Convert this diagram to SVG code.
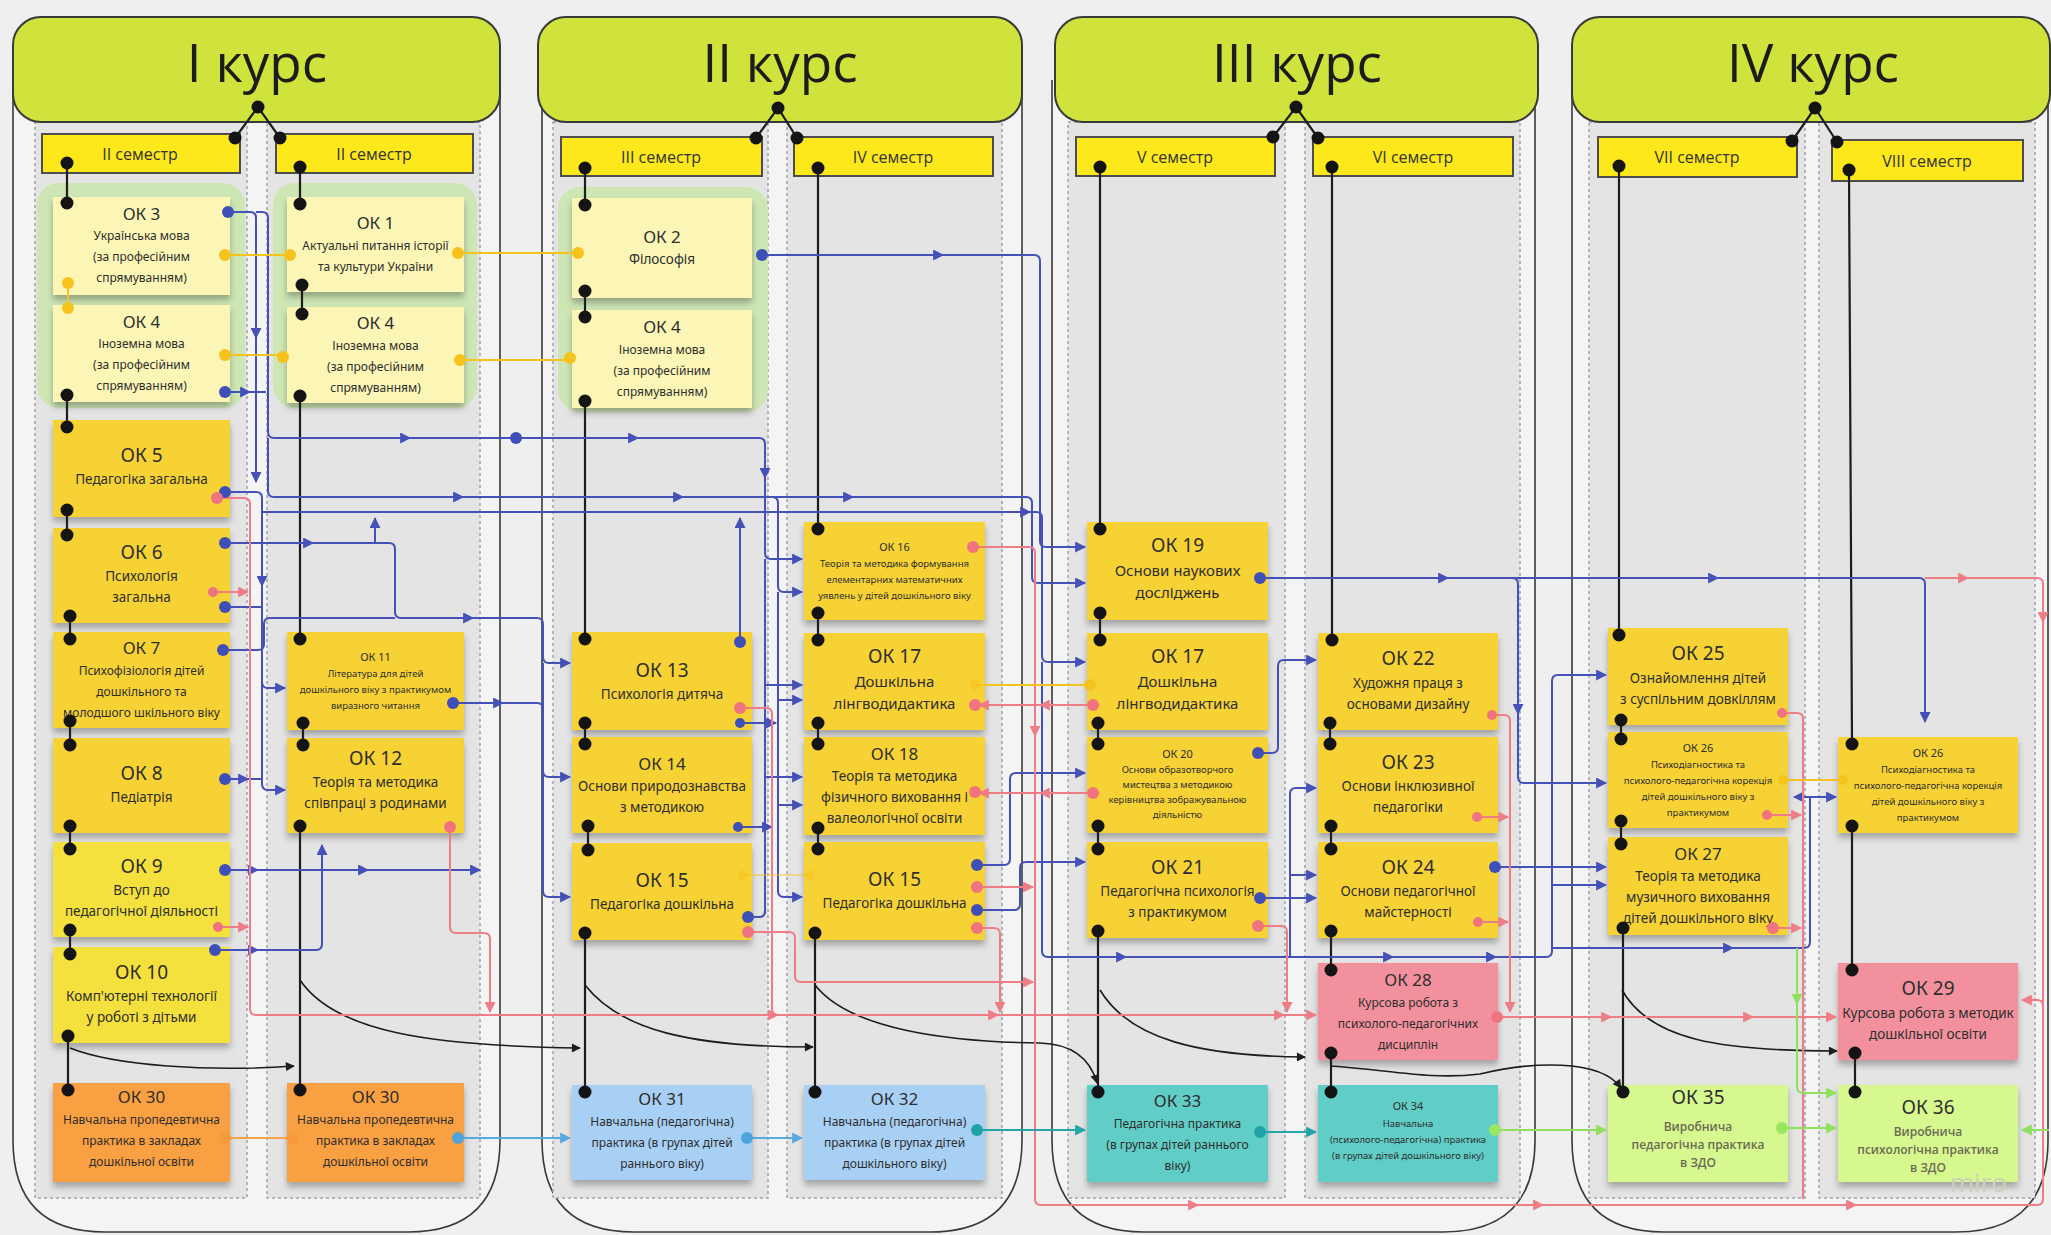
<svg xmlns="http://www.w3.org/2000/svg" width="2051" height="1235" viewBox="0 0 2051 1235">
<defs>
<style>
.bg{fill:#efefef}
.crs{fill:#f4f4f4;stroke:#3a3a3a;stroke-width:1.6}
.col{fill:#e4e4e4;stroke:#a0a0b0;stroke-width:1.5;stroke-dasharray:3 3}
.hdr{fill:#cfe33c;stroke:#3a3a3a;stroke-width:2}
.ttl{font-family:"Open Sans","Liberation Sans",sans-serif;font-size:53px;fill:#1c1c1c;text-anchor:middle}
.sem{fill:#fde81c;stroke:#4d4d4d;stroke-width:2}
.st{font-family:"Open Sans","Liberation Sans",sans-serif;font-size:16px;fill:#333;text-anchor:middle}
.grp{fill:#cde6b4}
.nd{filter:url(#sh)}
.ly{fill:#fbf6b6}.y{fill:#f7d235}.y2{fill:#f4e13c}.or{fill:#f9a043}.bl{fill:#a8d0f5}.tl{fill:#60cdc6}.pk{fill:#f2919d}.lg{fill:#d6f88f}
.t{font-family:"Noto Sans","Liberation Sans",sans-serif;fill:#2e2e2e;text-anchor:middle}
.h{font-size:17px}.hb{font-size:19px}.b{font-size:13.5px}.bb{font-size:15px}.b12{font-size:12px}.sm{font-size:9.5px}.hs{font-size:11px}
.gw{font-family:"Open Sans","Liberation Sans",sans-serif;font-size:12px;font-weight:600;fill:#6b6b55}
.k{stroke:#1d1d1d;stroke-width:2.2;fill:none}
.u{stroke:#4551b6;stroke-width:2;fill:none}
.r{stroke:#ee7d86;stroke-width:2;fill:none}
.yl{stroke:#f5c320;stroke-width:2;fill:none}
.o{stroke:#f6a246;stroke-width:2;fill:none}
.lb{stroke:#58a9de;stroke-width:2;fill:none}
.tq{stroke:#24a6a8;stroke-width:2;fill:none}
.gr{stroke:#8fe05c;stroke-width:2;fill:none}
.dk{fill:#141414}
.du{fill:#3f4fb8}.dr{fill:#ef7480}.dy{fill:#f6c21c}.do{fill:#f89a3c}.dl{fill:#4fa3db}.dt{fill:#1fa3a6}.dg{fill:#97e763}
.wm{font-family:"Open Sans","Liberation Sans",sans-serif;font-size:26px;fill:#c9d3bc}
</style>
<filter id="sh" x="-5%" y="-5%" width="110%" height="125%"><feDropShadow dx="0" dy="5" stdDeviation="3" flood-color="#000" flood-opacity="0.28"/></filter>
<marker id="au" viewBox="0 0 10 10" refX="9" refY="5" markerWidth="13" markerHeight="11" markerUnits="userSpaceOnUse" orient="auto"><path d="M0,0L10,5L0,10z" fill="#4551b6"/></marker>
<marker id="ar" viewBox="0 0 10 10" refX="9" refY="5" markerWidth="13" markerHeight="11" markerUnits="userSpaceOnUse" orient="auto"><path d="M0,0L10,5L0,10z" fill="#ee7d86"/></marker>
<marker id="ak" viewBox="0 0 10 10" refX="9" refY="5" markerWidth="13" markerHeight="9" markerUnits="userSpaceOnUse" orient="auto"><path d="M0,0L10,5L0,10z" fill="#1d1d1d"/></marker>
<marker id="al" viewBox="0 0 10 10" refX="9" refY="5" markerWidth="13" markerHeight="11" markerUnits="userSpaceOnUse" orient="auto"><path d="M0,0L10,5L0,10z" fill="#58a9de"/></marker>
<marker id="at" viewBox="0 0 10 10" refX="9" refY="5" markerWidth="13" markerHeight="11" markerUnits="userSpaceOnUse" orient="auto"><path d="M0,0L10,5L0,10z" fill="#24a6a8"/></marker>
<marker id="ag" viewBox="0 0 10 10" refX="9" refY="5" markerWidth="13" markerHeight="11" markerUnits="userSpaceOnUse" orient="auto"><path d="M0,0L10,5L0,10z" fill="#8fe05c"/></marker>
</defs>

<rect class="bg" x="0" y="0" width="2051" height="1235"/>

<g id="courses">
<path class="crs" d="M13,80 V1140 Q13,1232 105,1232 H408 Q500,1232 500,1140 V80"/>
<path class="crs" d="M542,80 V1140 Q542,1232 634,1232 H930 Q1022,1232 1022,1140 V80"/>
<path class="crs" d="M1052,80 V1140 Q1052,1232 1144,1232 H1443 Q1535,1232 1535,1140 V80"/>
<path class="crs" d="M1572,80 V1140 Q1572,1232 1664,1232 H1956 Q2048,1232 2048,1140 V80"/>
<rect class="col" x="35" y="122" width="212" height="1076"/>
<rect class="col" x="267" y="122" width="213" height="1076"/>
<rect class="col" x="553" y="122" width="215" height="1076"/>
<rect class="col" x="787" y="122" width="215" height="1076"/>
<rect class="col" x="1068" y="122" width="217" height="1076"/>
<rect class="col" x="1305" y="122" width="215" height="1076"/>
<rect class="col" x="1589" y="122" width="216" height="1076"/>
<rect class="col" x="1819" y="122" width="216" height="1076"/>
</g>

<g id="hdr1"><rect class="hdr" x="13" y="17" width="487" height="105" rx="28"/><text class="ttl" x="257" y="82">I курс</text></g>
<g id="hdr2"><rect class="hdr" x="538" y="17" width="484" height="105" rx="28"/><text class="ttl" x="780" y="82">II курс</text></g>
<g id="hdr3"><rect class="hdr" x="1055" y="17" width="483" height="105" rx="28"/><text class="ttl" x="1297" y="82">III курс</text></g>
<g id="hdr4"><rect class="hdr" x="1572" y="17" width="478" height="105" rx="28"/><text class="ttl" x="1813" y="82">IV курс</text></g>

<g id="sem1"><rect class="sem" x="42" y="134" width="198" height="39"/><text class="st" x="140" y="160">II семестр</text></g>
<g id="sem2"><rect class="sem" x="276" y="134" width="197" height="39"/><text class="st" x="374" y="160">II семестр</text></g>
<g id="sem3"><rect class="sem" x="561" y="137" width="201" height="39"/><text class="st" x="661" y="163">III семестр</text></g>
<g id="sem4"><rect class="sem" x="794" y="137" width="199" height="39"/><text class="st" x="893" y="163">IV семестр</text></g>
<g id="sem5"><rect class="sem" x="1076" y="137" width="199" height="39"/><text class="st" x="1175" y="163">V семестр</text></g>
<g id="sem6"><rect class="sem" x="1313" y="137" width="200" height="39"/><text class="st" x="1413" y="163">VI семестр</text></g>
<g id="sem7"><rect class="sem" x="1598" y="137" width="199" height="40"/><text class="st" x="1697" y="163">VII семестр</text></g>
<g id="sem8"><rect class="sem" x="1832" y="140" width="191" height="41"/><text class="st" x="1927" y="167">VIII семестр</text></g>

<g id="groups">
<rect class="grp" x="37" y="183" width="208" height="225" rx="22"/>
<rect class="grp" x="273" y="183" width="204" height="225" rx="22"/>
<rect class="grp" x="558" y="187" width="210" height="225" rx="22"/>
</g>

<g id="ok3"><rect class="nd ly" x="53" y="197" width="177" height="98"/><text class="t"><tspan class="h" x="141.5" y="220">ОК 3</tspan><tspan class="b12" x="141.5" y="240">Українська мова</tspan><tspan class="b12" x="141.5" y="261">(за професійним</tspan><tspan class="b12" x="141.5" y="282">спрямуванням)</tspan></text></g>
<g id="ok4a"><rect class="nd ly" x="53" y="305" width="177" height="97"/><text class="t"><tspan class="h" x="141.5" y="328">ОК 4</tspan><tspan class="b12" x="141.5" y="348">Іноземна мова</tspan><tspan class="b12" x="141.5" y="369">(за професійним</tspan><tspan class="b12" x="141.5" y="390">спрямуванням)</tspan></text></g>
<g id="ok5"><rect class="nd y" x="53" y="420" width="177" height="97"/><text class="t"><tspan class="hb" x="141.5" y="462">ОК 5</tspan><tspan class="b" x="141.5" y="484">Педагогіка загальна</tspan></text></g>
<g id="ok6"><rect class="nd y" x="53" y="528" width="177" height="95"/><text class="t"><tspan class="hb" x="141.5" y="559">ОК 6</tspan><tspan class="b" x="141.5" y="581">Психологія</tspan><tspan class="b" x="141.5" y="602">загальна</tspan></text></g>
<g id="ok7"><rect class="nd y" x="53" y="632" width="177" height="96"/><text class="t"><tspan class="h" x="141.5" y="654">ОК 7</tspan><tspan class="b12" x="141.5" y="675">Психофізіологія дітей</tspan><tspan class="b12" x="141.5" y="696">дошкільного та</tspan><tspan class="b12" x="141.5" y="717">молодшого шкільного віку</tspan></text></g>
<g id="ok8"><rect class="nd y" x="53" y="738" width="177" height="95"/><text class="t"><tspan class="hb" x="141.5" y="780">ОК 8</tspan><tspan class="b" x="141.5" y="802">Педіатрія</tspan></text></g>
<g id="ok9"><rect class="nd y2" x="53" y="842" width="177" height="95"/><text class="t"><tspan class="hb" x="141.5" y="873">ОК 9</tspan><tspan class="b" x="141.5" y="895">Вступ до</tspan><tspan class="b" x="141.5" y="916">педагогічної діяльності</tspan></text></g>
<g id="ok10"><rect class="nd y2" x="53" y="947" width="177" height="96"/><text class="t"><tspan class="hb" x="141.5" y="979">ОК 10</tspan><tspan class="b" x="141.5" y="1001">Комп'ютерні технології</tspan><tspan class="b" x="141.5" y="1022">у роботі з дітьми</tspan></text></g>
<g id="ok30a"><rect class="nd or" x="53" y="1083" width="177" height="99"/><text class="t"><tspan class="h" x="141.5" y="1103">ОК 30</tspan><tspan class="b12" x="141.5" y="1124">Навчальна пропедевтична</tspan><tspan class="b12" x="141.5" y="1145">практика в закладах</tspan><tspan class="b12" x="141.5" y="1166">дошкільної освіти</tspan></text></g>

<g id="ok1"><rect class="nd ly" x="287" y="197" width="177" height="95"/><text class="t"><tspan class="h" x="375.5" y="229">ОК 1</tspan><tspan class="b12" x="375.5" y="250">Актуальні питання історії</tspan><tspan class="b12" x="375.5" y="271">та культури України</tspan></text></g>
<g id="ok4b"><rect class="nd ly" x="287" y="307" width="177" height="96"/><text class="t"><tspan class="h" x="375.5" y="329">ОК 4</tspan><tspan class="b12" x="375.5" y="350">Іноземна мова</tspan><tspan class="b12" x="375.5" y="371">(за професійним</tspan><tspan class="b12" x="375.5" y="392">спрямуванням)</tspan></text></g>
<g id="ok11"><rect class="nd y" x="287" y="632" width="177" height="98"/><text class="t"><tspan class="hs" x="375.5" y="661">ОК 11</tspan><tspan class="sm" x="375.5" y="677">Література для дітей</tspan><tspan class="sm" x="375.5" y="693">дошкільного віку з практикумом</tspan><tspan class="sm" x="375.5" y="709">виразного читання</tspan></text></g>
<g id="ok12"><rect class="nd y" x="287" y="738" width="177" height="95"/><text class="t"><tspan class="hb" x="375.5" y="765">ОК 12</tspan><tspan class="b" x="375.5" y="787">Теорія та методика</tspan><tspan class="b" x="375.5" y="808">співпраці з родинами</tspan></text></g>
<g id="ok30b"><rect class="nd or" x="287" y="1083" width="177" height="99"/><text class="t"><tspan class="h" x="375.5" y="1103">ОК 30</tspan><tspan class="b12" x="375.5" y="1124">Навчальна пропедевтична</tspan><tspan class="b12" x="375.5" y="1145">практика в закладах</tspan><tspan class="b12" x="375.5" y="1166">дошкільної освіти</tspan></text></g>

<g id="ok2"><rect class="nd ly" x="572" y="198" width="180" height="100"/><text class="t"><tspan class="h" x="662" y="243">ОК 2</tspan><tspan class="b" x="662" y="264">Філософія</tspan></text></g>
<g id="ok4c"><rect class="nd ly" x="572" y="310" width="180" height="98"/><text class="t"><tspan class="h" x="662" y="333">ОК 4</tspan><tspan class="b12" x="662" y="354">Іноземна мова</tspan><tspan class="b12" x="662" y="375">(за професійним</tspan><tspan class="b12" x="662" y="396">спрямуванням)</tspan></text></g>
<g id="ok13"><rect class="nd y" x="572" y="632" width="180" height="98"/><text class="t"><tspan class="hb" x="662" y="677">ОК 13</tspan><tspan class="b" x="662" y="699">Психологія дитяча</tspan></text></g>
<g id="ok14"><rect class="nd y" x="572" y="737" width="180" height="96"/><text class="t"><tspan class="h" x="662" y="770">ОК 14</tspan><tspan class="b" x="662" y="791">Основи природознавства</tspan><tspan class="b" x="662" y="812">з методикою</tspan></text></g>
<g id="ok15a"><rect class="nd y" x="572" y="843" width="180" height="97"/><text class="t"><tspan class="hb" x="662" y="887">ОК 15</tspan><tspan class="b" x="662" y="909">Педагогіка дошкільна</tspan></text></g>
<g id="ok31"><rect class="nd bl" x="572" y="1085" width="180" height="95"/><text class="t"><tspan class="h" x="662" y="1105">ОК 31</tspan><tspan class="b12" x="662" y="1126">Навчальна (педагогічна)</tspan><tspan class="b12" x="662" y="1147">практика (в групах дітей</tspan><tspan class="b12" x="662" y="1168">раннього віку)</tspan></text></g>

<g id="ok16"><rect class="nd y" x="804" y="522" width="181" height="98"/><text class="t"><tspan class="hs" x="894.5" y="551">ОК 16</tspan><tspan class="sm" x="894.5" y="567">Теорія та методика формування</tspan><tspan class="sm" x="894.5" y="583">елементарних математичних</tspan><tspan class="sm" x="894.5" y="599">уявлень у дітей дошкільного віку</tspan></text></g>
<g id="ok17a"><rect class="nd y" x="804" y="633" width="181" height="97"/><text class="t"><tspan class="hb" x="894.5" y="663">ОК 17</tspan><tspan class="bb" x="894.5" y="687">Дошкільна</tspan><tspan class="bb" x="894.5" y="709">лінгводидактика</tspan></text></g>
<g id="ok18"><rect class="nd y" x="804" y="737" width="181" height="98"/><text class="t"><tspan class="h" x="894.5" y="760">ОК 18</tspan><tspan class="b" x="894.5" y="781">Теорія та методика</tspan><tspan class="b" x="894.5" y="802">фізичного виховання і</tspan><tspan class="b" x="894.5" y="823">валеологічної освіти</tspan></text></g>
<g id="ok15b"><rect class="nd y" x="804" y="842" width="181" height="98"/><text class="t"><tspan class="hb" x="894.5" y="886">ОК 15</tspan><tspan class="b" x="894.5" y="908">Педагогіка дошкільна</tspan></text></g>
<g id="ok32"><rect class="nd bl" x="804" y="1085" width="181" height="95"/><text class="t"><tspan class="h" x="894.5" y="1105">ОК 32</tspan><tspan class="b12" x="894.5" y="1126">Навчальна (педагогічна)</tspan><tspan class="b12" x="894.5" y="1147">практика (в групах дітей</tspan><tspan class="b12" x="894.5" y="1168">дошкільного віку)</tspan></text></g>

<g id="ok19"><rect class="nd y" x="1087" y="522" width="181" height="98"/><text class="t"><tspan class="hb" x="1177.5" y="552">ОК 19</tspan><tspan class="bb" x="1177.5" y="576">Основи наукових</tspan><tspan class="bb" x="1177.5" y="598">досліджень</tspan></text></g>
<g id="ok17b"><rect class="nd y" x="1087" y="633" width="181" height="97"/><text class="t"><tspan class="hb" x="1177.5" y="663">ОК 17</tspan><tspan class="bb" x="1177.5" y="687">Дошкільна</tspan><tspan class="bb" x="1177.5" y="709">лінгводидактика</tspan></text></g>
<g id="ok20"><rect class="nd y" x="1087" y="737" width="181" height="96"/><text class="t"><tspan class="hs" x="1177.5" y="758">ОК 20</tspan><tspan class="sm" x="1177.5" y="773">Основи образотворчого</tspan><tspan class="sm" x="1177.5" y="788">мистецтва з методикою</tspan><tspan class="sm" x="1177.5" y="803">керівництва зображувальною</tspan><tspan class="sm" x="1177.5" y="818">діяльністю</tspan></text></g>
<g id="ok21"><rect class="nd y" x="1087" y="842" width="181" height="96"/><text class="t"><tspan class="hb" x="1177.5" y="874">ОК 21</tspan><tspan class="b" x="1177.5" y="896">Педагогічна психологія</tspan><tspan class="b" x="1177.5" y="917">з практикумом</tspan></text></g>
<g id="ok33"><rect class="nd tl" x="1087" y="1085" width="181" height="97"/><text class="t"><tspan class="h" x="1177.5" y="1107">ОК 33</tspan><tspan class="b12" x="1177.5" y="1128">Педагогічна практика</tspan><tspan class="b12" x="1177.5" y="1149">(в групах дітей раннього</tspan><tspan class="b12" x="1177.5" y="1170">віку)</tspan></text></g>

<g id="ok22"><rect class="nd y" x="1318" y="633" width="180" height="97"/><text class="t"><tspan class="hb" x="1408" y="665">ОК 22</tspan><tspan class="b" x="1408" y="688">Художня праця з</tspan><tspan class="b" x="1408" y="709">основами дизайну</tspan></text></g>
<g id="ok23"><rect class="nd y" x="1318" y="737" width="180" height="96"/><text class="t"><tspan class="hb" x="1408" y="769">ОК 23</tspan><tspan class="b" x="1408" y="791">Основи інклюзивної</tspan><tspan class="b" x="1408" y="812">педагогіки</tspan></text></g>
<g id="ok24"><rect class="nd y" x="1318" y="842" width="180" height="96"/><text class="t"><tspan class="hb" x="1408" y="874">ОК 24</tspan><tspan class="b" x="1408" y="896">Основи педагогічної</tspan><tspan class="b" x="1408" y="917">майстерності</tspan></text></g>
<g id="ok28"><rect class="nd pk" x="1318" y="963" width="180" height="97"/><text class="t"><tspan class="h" x="1408" y="986">ОК 28</tspan><tspan class="b12" x="1408" y="1007">Курсова робота з</tspan><tspan class="b12" x="1408" y="1028">психолого-педагогічних</tspan><tspan class="b12" x="1408" y="1049">дисциплін</tspan></text></g>
<g id="ok34"><rect class="nd tl" x="1318" y="1085" width="180" height="97"/><text class="t"><tspan class="hs" x="1408" y="1110">ОК 34</tspan><tspan class="sm" x="1408" y="1127">Навчальна</tspan><tspan class="sm" x="1408" y="1143">(психолого-педагогічна) практика</tspan><tspan class="sm" x="1408" y="1159">(в групах дітей дошкільного віку)</tspan></text></g>

<g id="ok25"><rect class="nd y" x="1608" y="628" width="180" height="97"/><text class="t"><tspan class="hb" x="1698" y="660">ОК 25</tspan><tspan class="b" x="1698" y="683">Ознайомлення дітей</tspan><tspan class="b" x="1698" y="704">з суспільним довкіллям</tspan></text></g>
<g id="ok26a"><rect class="nd y" x="1608" y="732" width="180" height="96"/><text class="t"><tspan class="hs" x="1698" y="752">ОК 26</tspan><tspan class="sm" x="1698" y="768">Психодіагностика та</tspan><tspan class="sm" x="1698" y="784">психолого-педагогічна корекція</tspan><tspan class="sm" x="1698" y="800">дітей дошкільного віку з</tspan><tspan class="sm" x="1698" y="816">практикумом</tspan></text></g>
<g id="ok27"><rect class="nd y" x="1608" y="837" width="180" height="98"/><text class="t"><tspan class="h" x="1698" y="860">ОК 27</tspan><tspan class="b" x="1698" y="881">Теорія та методика</tspan><tspan class="b" x="1698" y="902">музичного виховання</tspan><tspan class="b" x="1698" y="923">дітей дошкільного віку</tspan></text></g>
<g id="ok35"><rect class="nd lg" x="1608" y="1085" width="180" height="97"/><text class="t"><tspan class="hb" x="1698" y="1104">ОК 35</tspan></text><text class="gw" text-anchor="middle"><tspan x="1698" y="1131">Виробнича</tspan><tspan x="1698" y="1149">педагогічна практика</tspan><tspan x="1698" y="1167">в ЗДО</tspan></text></g>

<g id="ok26b"><rect class="nd y" x="1838" y="737" width="180" height="96"/><text class="t"><tspan class="hs" x="1928" y="757">ОК 26</tspan><tspan class="sm" x="1928" y="773">Психодіагностика та</tspan><tspan class="sm" x="1928" y="789">психолого-педагогічна корекція</tspan><tspan class="sm" x="1928" y="805">дітей дошкільного віку з</tspan><tspan class="sm" x="1928" y="821">практикумом</tspan></text></g>
<g id="ok29"><rect class="nd pk" x="1838" y="963" width="180" height="97"/><text class="t"><tspan class="hb" x="1928" y="995">ОК 29</tspan><tspan class="b" x="1928" y="1018">Курсова робота з методик</tspan><tspan class="b" x="1928" y="1039">дошкільної освіти</tspan></text></g>
<g id="ok36"><rect class="nd lg" x="1838" y="1085" width="180" height="97"/><text class="t"><tspan class="hb" x="1928" y="1114">ОК 36</tspan></text><text class="gw" text-anchor="middle"><tspan x="1928" y="1136">Виробнича</tspan><tspan x="1928" y="1154">психологічна практика</tspan><tspan x="1928" y="1172">в ЗДО</tspan></text></g>

<text class="wm" x="1950" y="1192">miro</text>

<g id="connectors">
<path class="k" d="M235,138 L258,107 L280,138 M756,138 L778,108 L797,138 M1273,137 L1296,107 L1318,138 M1792,141 L1815,108 L1837,142"/>
<path class="k" d="M67,163V203 M67,395V427 M67,510V535 M70,616V639 M70,721V745 M70,826V849 M70,930V954 M68,1036V1090"/>
<path class="k" d="M300,167V204 M302,285V314 M300,396V639 M303,723V745 M300,826V1090"/>
<path class="k" d="M585,168V205 M585,291V317 M585,401V639 M585,723V744 M588,826V850 M585,933V1092"/>
<path class="k" d="M818,168V529 M818,613V640 M818,723V744 M818,828V849 M815,933V1092"/>
<path class="k" d="M1100,167V529 M1100,613V640 M1098,723V744 M1098,826V849 M1098,931V1092"/>
<path class="k" d="M1332,167V640 M1330,723V744 M1331,826V849 M1331,931V970 M1331,1053V1092"/>
<path class="k" d="M1619,166V635 M1621,720V739 M1621,821V844 M1623,928V1092"/>
<path class="k" d="M1849,170L1852,744 M1852,826V970 M1855,1053V1092"/>
<path class="k" style="stroke-width:1.6" marker-end="url(#ak)" d="M70,1048 C115,1066 210,1072 294,1066"/>
<path class="k" style="stroke-width:1.6" marker-end="url(#ak)" d="M300,980 C335,1032 430,1046 580,1048"/>
<path class="k" style="stroke-width:1.6" marker-end="url(#ak)" d="M585,985 C620,1030 690,1047 813,1047"/>
<path class="k" style="stroke-width:1.6" marker-end="url(#ak)" d="M815,985 C850,1030 950,1042 1040,1043 C1072,1044 1090,1058 1097,1083"/>
<path class="k" style="stroke-width:1.6" marker-end="url(#ak)" d="M1100,990 C1130,1040 1200,1056 1305,1057"/>
<path class="k" style="stroke-width:1.6" marker-end="url(#ak)" d="M1331,1066 C1390,1070 1430,1080 1480,1074 C1530,1062 1600,1058 1621,1088"/>
<path class="k" style="stroke-width:1.6" marker-end="url(#ak)" d="M1622,990 C1650,1040 1720,1051 1837,1051"/>

<path class="u" marker-end="url(#au)" d="M228,212 H250 Q256,212 256,218 V482"/>
<path class="u" marker-end="url(#au)" d="M256,330 v8"/>
<path class="u" marker-end="url(#au)" d="M256,212 H262 Q268,212 268,218 V432 Q268,438 274,438 H759 Q765,438 765,444 V553 Q765,559 771,559 H802"/>
<path class="u" marker-end="url(#au)" d="M402,438 h8"/>
<path class="u" marker-end="url(#au)" d="M630,438 h8"/>
<path class="u" marker-end="url(#au)" d="M765,470 v8"/>
<path class="u" d="M765,559 V914"/>
<path class="u" marker-end="url(#au)" d="M268,438 V491 Q268,497 274,497 H1026 Q1032,497 1032,503 V577 Q1032,583 1038,583 H1085"/>
<path class="u" marker-end="url(#au)" d="M455,497 h8"/>
<path class="u" marker-end="url(#au)" d="M675,497 h8"/>
<path class="u" marker-end="url(#au)" d="M845,497 h8"/>
<path class="u" marker-end="url(#au)" d="M772,497 Q778,497 778,503 V586 Q778,592 784,592 H802"/>
<path class="u" marker-end="url(#au)" d="M778,592 V891 Q778,897 784,897 H802"/>
<path class="u" marker-end="url(#au)" d="M778,700 H802"/>
<path class="u" marker-end="url(#au)" d="M778,805 H802"/>
<path class="u" marker-end="url(#au)" d="M765,685 H802"/>
<path class="u" marker-end="url(#au)" d="M765,777 H802"/>
<path class="u" d="M225,392 H266"/>
<path class="u" marker-end="url(#au)" d="M244,392 h6"/>
<path class="u" marker-end="url(#au)" d="M225,492 H256 Q262,492 262,498 V784 Q262,790 268,790 H285"/>
<path class="u" marker-end="url(#au)" d="M262,578 v8"/>
<path class="u" marker-end="url(#au)" d="M262,682 Q262,688 268,688 H285"/>
<path class="u" marker-end="url(#au)" d="M262,512 H1036 Q1042,512 1042,518 V656 Q1042,662 1048,662 H1085"/>
<path class="u" marker-end="url(#au)" d="M1022,512 h8"/>
<path class="u" marker-end="url(#au)" d="M1042,662 V951 Q1042,957 1048,957 H1546 Q1552,957 1552,951 V681 Q1552,675 1558,675 H1606"/>
<path class="u" marker-end="url(#au)" d="M1118,957 h8"/>
<path class="u" marker-end="url(#au)" d="M1385,957 h8"/>
<path class="u" marker-end="url(#au)" d="M1488,957 h8"/>
<path class="u" marker-end="url(#au)" d="M1290,957 V794 Q1290,788 1296,788 H1316"/>
<path class="u" marker-end="url(#au)" d="M1290,875 H1316"/>
<path class="u" marker-end="url(#au)" d="M225,543 H389 Q395,543 395,549 V612 Q395,618 401,618 H537 Q543,618 543,624 V657 Q543,663 549,663 H570"/>
<path class="u" marker-end="url(#au)" d="M305,543 h8"/>
<path class="u" marker-end="url(#au)" d="M465,618 h8"/>
<path class="u" marker-end="url(#au)" d="M375,543 V518"/>
<path class="u" marker-end="url(#au)" d="M543,663 V891 Q543,897 549,897 H570"/>
<path class="u" marker-end="url(#au)" d="M543,771 Q543,777 549,777 H570"/>
<path class="u" d="M225,607 H262"/>
<path class="u" d="M223,650 H258 Q264,650 264,644 V624 Q264,618 270,618 H395"/>
<path class="u" d="M225,779 H262"/>
<path class="u" marker-end="url(#au)" d="M242,779 h6"/>
<path class="u" d="M453,703 H537 Q543,703 543,709"/>
<path class="u" marker-end="url(#au)" d="M495,703 h8"/>
<path class="u" marker-end="url(#au)" d="M225,870 H480"/>
<path class="u" marker-end="url(#au)" d="M250,870 h8"/>
<path class="u" marker-end="url(#au)" d="M360,870 h8"/>
<path class="u" marker-end="url(#au)" d="M215,950 H316 Q322,950 322,944 V845"/>
<path class="u" marker-end="url(#au)" d="M250,950 h8"/>
<path class="u" marker-end="url(#au)" d="M762,255 H1034 Q1040,255 1040,261 V541 Q1040,547 1046,547 H1085"/>
<path class="u" marker-end="url(#au)" d="M935,255 h8"/>
<path class="u" marker-end="url(#au)" d="M740,642 V518"/>
<path class="u" marker-end="url(#au)" d="M740,723 H776"/>
<path class="u" marker-end="url(#au)" d="M738,827 H772"/>
<path class="u" d="M748,917 H759 Q765,917 765,911 V900"/>
<path class="u" marker-end="url(#au)" d="M977,865 H1004 Q1010,865 1010,859 V779 Q1010,773 1016,773 H1085"/>
<path class="u" marker-end="url(#au)" d="M977,910 H1014 Q1020,910 1020,904 V868 Q1020,862 1026,862 H1085"/>
<path class="u" marker-end="url(#au)" d="M1260,578 H1919 Q1925,578 1925,584 V722"/>
<path class="u" marker-end="url(#au)" d="M1440,578 h8"/>
<path class="u" marker-end="url(#au)" d="M1710,578 h8"/>
<path class="u" marker-end="url(#au)" d="M1512,578 Q1518,578 1518,584 V777 Q1518,783 1524,783 H1606"/>
<path class="u" marker-end="url(#au)" d="M1518,706 v8"/>
<path class="u" marker-end="url(#au)" d="M1258,753 H1272 Q1278,753 1278,747 V666 Q1278,660 1284,660 H1316"/>
<path class="u" marker-end="url(#au)" d="M1260,898 H1316"/>
<path class="u" marker-end="url(#au)" d="M1495,867 H1606"/>
<path class="u" marker-end="url(#au)" d="M1552,885 H1606"/>
<path class="u" d="M1552,948 H1804 Q1810,948 1810,942 V797"/>
<path class="u" marker-end="url(#au)" d="M1725,948 h8"/>
<path class="u" marker-end="url(#au)" d="M1810,797 H1794"/>
<path class="u" marker-end="url(#au)" d="M1810,797 H1836"/>

<path class="r" marker-end="url(#ar)" d="M217,498 H244 Q250,498 250,504 V1009 Q250,1015 256,1015 H1316"/>
<path class="r" marker-end="url(#ar)" d="M770,1015 h8"/>
<path class="r" marker-end="url(#ar)" d="M990,1015 h8"/>
<path class="r" marker-end="url(#ar)" d="M1276,1015 h8"/>
<path class="r" marker-end="url(#ar)" d="M213,592 H248"/>
<path class="r" marker-end="url(#ar)" d="M218,927 H248"/>
<path class="r" marker-end="url(#ar)" d="M450,827 V927 Q450,933 456,933 H484 Q490,933 490,939 V1012"/>
<path class="r" d="M740,708 H766 Q772,708 772,714 V1009 Q772,1015 778,1015"/>
<path class="r" marker-end="url(#ar)" d="M748,932 H789 Q795,932 795,938 V976 Q795,982 801,982 H1033"/>
<path class="r" d="M973,547 H1029 Q1035,547 1035,553 V1199 Q1035,1205 1041,1205 H2037 Q2043,1205 2043,1199 V1000"/>
<path class="r" marker-end="url(#ar)" d="M1035,728 v8"/>
<path class="r" marker-end="url(#ar)" d="M1190,1205 h8"/>
<path class="r" marker-end="url(#ar)" d="M1535,1205 h8"/>
<path class="r" marker-end="url(#ar)" d="M1848,1205 h8"/>
<path class="r" marker-end="url(#ar)" d="M2043,1006 Q2043,1000 2037,1000 H2022"/>
<path class="r" marker-end="url(#ar)" d="M1093,705 H979"/>
<path class="r" marker-end="url(#ar)" d="M1048,705 h-8"/>
<path class="r" marker-end="url(#ar)" d="M1093,793 H979"/>
<path class="r" marker-end="url(#ar)" d="M1048,793 h-8"/>
<path class="r" marker-end="url(#ar)" d="M977,887 H1033"/>
<path class="r" marker-end="url(#ar)" d="M977,928 H994 Q1000,928 1000,934 V1012"/>
<path class="r" marker-end="url(#ar)" d="M1258,926 H1281 Q1287,926 1287,932 V1012"/>
<path class="r" marker-end="url(#ar)" d="M1492,715 H1504 Q1510,715 1510,721 V1012"/>
<path class="r" marker-end="url(#ar)" d="M1477,817 H1508"/>
<path class="r" marker-end="url(#ar)" d="M1478,922 H1508"/>
<path class="r" marker-end="url(#ar)" d="M1497,1017 H1836"/>
<path class="r" marker-end="url(#ar)" d="M1603,1017 h8"/>
<path class="r" marker-end="url(#ar)" d="M1745,1017 h8"/>
<path class="r" d="M1925,578 H2037 Q2043,578 2043,584 V1000"/>
<path class="r" marker-end="url(#ar)" d="M1960,578 h8"/>
<path class="r" marker-end="url(#ar)" d="M2043,614 v8"/>
<path class="r" d="M1782,713 H1797 Q1803,713 1803,719 V1199"/>
<path class="r" marker-end="url(#ar)" d="M1767,815 H1801"/>
<path class="r" marker-end="url(#ar)" d="M1773,928 H1801"/>

<path class="yl" d="M225,255 H290 M225,355 H283 M458,253 H578 M460,360 H570 M68,283 V308 M1783,780 H1843 M975,685 H1090"/>
<path class="yl" style="opacity:.45" d="M743,875 H810"/>
<path class="o" d="M225,1138 H292"/>
<path class="lb" marker-end="url(#al)" d="M458,1138 H570"/>
<path class="lb" marker-end="url(#al)" d="M747,1138 H802"/>
<path class="tq" marker-end="url(#at)" d="M977,1130 H1085"/>
<path class="tq" marker-end="url(#at)" d="M1260,1132 H1316"/>
<path class="gr" marker-end="url(#ag)" d="M1495,1130 H1606"/>
<path class="gr" marker-end="url(#ag)" d="M1782,1128 H1836"/>
<path class="gr" marker-end="url(#ag)" d="M1797,948 V1087 Q1797,1093 1803,1093 H1836"/>
<path class="gr" marker-end="url(#ag)" d="M1797,996 v8"/>
<path class="gr" marker-end="url(#ag)" d="M2049,1130 H2022"/>

<g class="dk">
<circle cx="258" cy="107" r="6.5"/><circle cx="235" cy="138" r="6.5"/><circle cx="280" cy="138" r="6.5"/>
<circle cx="778" cy="108" r="6.5"/><circle cx="756" cy="138" r="6.5"/><circle cx="797" cy="138" r="6.5"/>
<circle cx="1296" cy="107" r="6.5"/><circle cx="1273" cy="137" r="6.5"/><circle cx="1318" cy="138" r="6.5"/>
<circle cx="1815" cy="108" r="6.5"/><circle cx="1792" cy="141" r="6.5"/><circle cx="1837" cy="142" r="6.5"/>
<circle cx="67" cy="163" r="6.5"/><circle cx="67" cy="203" r="6.5"/><circle cx="67" cy="395" r="6.5"/><circle cx="67" cy="427" r="6.5"/><circle cx="67" cy="510" r="6.5"/><circle cx="67" cy="535" r="6.5"/><circle cx="70" cy="616" r="6.5"/><circle cx="70" cy="639" r="6.5"/><circle cx="70" cy="721" r="6.5"/><circle cx="70" cy="745" r="6.5"/><circle cx="70" cy="826" r="6.5"/><circle cx="70" cy="849" r="6.5"/><circle cx="70" cy="930" r="6.5"/><circle cx="70" cy="954" r="6.5"/><circle cx="68" cy="1036" r="6.5"/><circle cx="68" cy="1090" r="6.5"/>
<circle cx="300" cy="167" r="6.5"/><circle cx="300" cy="204" r="6.5"/><circle cx="302" cy="285" r="6.5"/><circle cx="302" cy="314" r="6.5"/><circle cx="300" cy="396" r="6.5"/><circle cx="300" cy="639" r="6.5"/><circle cx="303" cy="723" r="6.5"/><circle cx="303" cy="745" r="6.5"/><circle cx="300" cy="826" r="6.5"/><circle cx="300" cy="1090" r="6.5"/>
<circle cx="585" cy="168" r="6.5"/><circle cx="585" cy="205" r="6.5"/><circle cx="585" cy="291" r="6.5"/><circle cx="585" cy="317" r="6.5"/><circle cx="585" cy="401" r="6.5"/><circle cx="585" cy="639" r="6.5"/><circle cx="585" cy="723" r="6.5"/><circle cx="585" cy="744" r="6.5"/><circle cx="588" cy="826" r="6.5"/><circle cx="588" cy="850" r="6.5"/><circle cx="585" cy="933" r="6.5"/><circle cx="585" cy="1092" r="6.5"/>
<circle cx="818" cy="168" r="6.5"/><circle cx="818" cy="529" r="6.5"/><circle cx="818" cy="613" r="6.5"/><circle cx="818" cy="640" r="6.5"/><circle cx="818" cy="723" r="6.5"/><circle cx="818" cy="744" r="6.5"/><circle cx="818" cy="828" r="6.5"/><circle cx="818" cy="849" r="6.5"/><circle cx="815" cy="933" r="6.5"/><circle cx="815" cy="1092" r="6.5"/>
<circle cx="1100" cy="167" r="6.5"/><circle cx="1100" cy="529" r="6.5"/><circle cx="1100" cy="613" r="6.5"/><circle cx="1100" cy="640" r="6.5"/><circle cx="1098" cy="723" r="6.5"/><circle cx="1098" cy="744" r="6.5"/><circle cx="1098" cy="826" r="6.5"/><circle cx="1098" cy="849" r="6.5"/><circle cx="1098" cy="931" r="6.5"/><circle cx="1098" cy="1092" r="6.5"/>
<circle cx="1332" cy="167" r="6.5"/><circle cx="1332" cy="640" r="6.5"/><circle cx="1330" cy="723" r="6.5"/><circle cx="1330" cy="744" r="6.5"/><circle cx="1331" cy="826" r="6.5"/><circle cx="1331" cy="849" r="6.5"/><circle cx="1331" cy="931" r="6.5"/><circle cx="1331" cy="970" r="6.5"/><circle cx="1331" cy="1053" r="6.5"/><circle cx="1331" cy="1092" r="6.5"/>
<circle cx="1619" cy="166" r="6.5"/><circle cx="1619" cy="635" r="6.5"/><circle cx="1621" cy="720" r="6.5"/><circle cx="1621" cy="739" r="6.5"/><circle cx="1621" cy="821" r="6.5"/><circle cx="1621" cy="844" r="6.5"/><circle cx="1623" cy="928" r="6.5"/><circle cx="1623" cy="1092" r="6.5"/>
<circle cx="1849" cy="170" r="6.5"/><circle cx="1852" cy="744" r="6.5"/><circle cx="1852" cy="826" r="6.5"/><circle cx="1852" cy="970" r="6.5"/><circle cx="1855" cy="1053" r="6.5"/><circle cx="1855" cy="1092" r="6.5"/>
</g>
<g class="du">
<circle cx="228" cy="212" r="6"/><circle cx="225" cy="392" r="6"/><circle cx="225" cy="492" r="6"/><circle cx="225" cy="543" r="6"/><circle cx="225" cy="607" r="6"/><circle cx="223" cy="650" r="6"/><circle cx="225" cy="779" r="6"/><circle cx="453" cy="703" r="6"/><circle cx="225" cy="870" r="6"/><circle cx="215" cy="950" r="6"/><circle cx="762" cy="255" r="6"/><circle cx="740" cy="642" r="6"/><circle cx="740" cy="723" r="5"/><circle cx="738" cy="827" r="5"/><circle cx="748" cy="917" r="6"/><circle cx="977" cy="865" r="6"/><circle cx="977" cy="910" r="6"/><circle cx="1260" cy="578" r="6"/><circle cx="1258" cy="753" r="6"/><circle cx="1260" cy="898" r="6"/><circle cx="1495" cy="867" r="6"/><circle cx="516" cy="438" r="6"/>
</g>
<g class="dr">
<circle cx="217" cy="498" r="6"/><circle cx="213" cy="592" r="5"/><circle cx="218" cy="927" r="5"/><circle cx="450" cy="827" r="6"/><circle cx="740" cy="708" r="6"/><circle cx="748" cy="932" r="6"/><circle cx="973" cy="547" r="6"/><circle cx="1093" cy="705" r="6"/><circle cx="975" cy="705" r="6"/><circle cx="1093" cy="793" r="6"/><circle cx="975" cy="792" r="6"/><circle cx="977" cy="887" r="6"/><circle cx="977" cy="928" r="6"/><circle cx="1258" cy="926" r="6"/><circle cx="1492" cy="715" r="5"/><circle cx="1477" cy="817" r="5"/><circle cx="1478" cy="922" r="5"/><circle cx="1497" cy="1017" r="6"/><circle cx="1782" cy="713" r="5"/><circle cx="1767" cy="815" r="5"/><circle cx="1773" cy="928" r="6"/>
</g>
<g class="dy">
<circle cx="225" cy="255" r="6"/><circle cx="290" cy="255" r="6"/><circle cx="225" cy="355" r="6"/><circle cx="283" cy="357" r="6"/><circle cx="458" cy="253" r="6"/><circle cx="578" cy="253" r="6"/><circle cx="460" cy="360" r="6"/><circle cx="570" cy="358" r="6"/><circle cx="68" cy="283" r="6"/><circle cx="68" cy="308" r="6"/><circle cx="975" cy="685" r="5" opacity=".6"/><circle cx="1090" cy="685" r="6"/><circle cx="1783" cy="780" r="5"/><circle cx="1843" cy="780" r="5"/>
<circle cx="743" cy="875" r="5" opacity=".45"/><circle cx="810" cy="875" r="5" opacity=".45"/>
</g>
<g class="do"><circle cx="225" cy="1138" r="6"/><circle cx="292" cy="1138" r="6"/></g>
<g class="dl"><circle cx="458" cy="1138" r="6"/><circle cx="747" cy="1138" r="6"/></g>
<g class="dt"><circle cx="977" cy="1130" r="6"/><circle cx="1260" cy="1132" r="6"/></g>
<g class="dg"><circle cx="1495" cy="1130" r="6"/><circle cx="1782" cy="1128" r="6"/></g>
</g>
</svg>
